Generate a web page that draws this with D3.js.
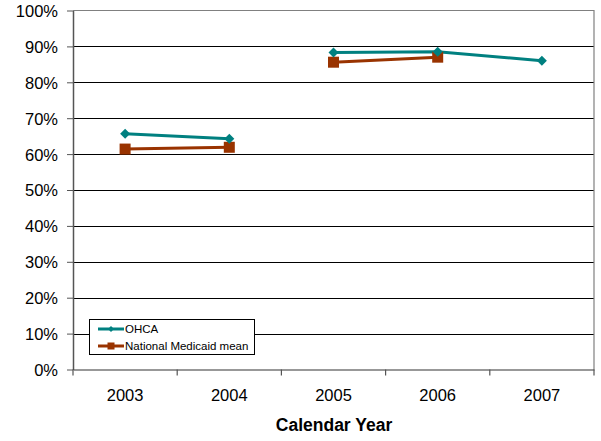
<!DOCTYPE html>
<html><head><meta charset="utf-8">
<script src="https://cdn.jsdelivr.net/npm/d3@7"></script>
<style>body{margin:0;background:#fff}svg{display:block;font-family:"Liberation Sans",Arial,sans-serif}</style>
</head><body><svg id="c" width="601" height="441"></svg>
<script>
const years = ["2003","2004","2005","2006","2007"];
const ohca = [65.7, 64.3, 88.3, 88.5, 86.0];
const national = [61.4, 61.9, 85.6, 87.0, null];
const yTicks = [0,10,20,30,40,50,60,70,80,90,100];
const seriesNames = ["OHCA","National Medicaid mean"];

const svg = d3.select("#c");
const L=73, R=594, T=10.5, B=369.5;
const x = d3.scaleBand().domain(years).range([L,R]);
const y = d3.scaleLinear().domain([0,100]).range([B,T]);
const FF = "Liberation Sans, Arial, sans-serif";

svg.append("g").selectAll("line").data(yTicks.filter(d=>d>0 && d<100)).join("line")
  .attr("x1",L).attr("x2",R).attr("y1",d=>Math.round(y(d))+0.5).attr("y2",d=>Math.round(y(d))+0.5)
  .attr("stroke","#000").attr("stroke-width",1);
svg.append("path").attr("d",`M${L},${T}H${R}V${B}`).attr("fill","none").attr("stroke","#808080").attr("stroke-width",1.2);

const ya = svg.append("g").attr("transform",`translate(${L},0)`)
  .call(d3.axisLeft(y).tickValues(yTicks).tickFormat(d=>d+"%").tickSize(6).tickSizeOuter(0));
ya.select(".domain").attr("stroke","#555").attr("stroke-width",1.5);
ya.selectAll(".tick line").attr("stroke","#555");
ya.selectAll("text").attr("font-size",16.5).attr("fill","#000").attr("font-family",FF).attr("x",-15).attr("dy","0.36em");

const xa = svg.append("g").attr("transform",`translate(0,${B})`)
  .call(d3.axisBottom(x).tickSize(0).tickSizeOuter(0));
xa.select(".domain").attr("stroke","#333").attr("stroke-width",1.2);
xa.selectAll("text").attr("font-size",16.5).attr("fill","#000").attr("font-family",FF).attr("y",0).attr("dy",31.5);
const bounds = years.map(d=>x(d)).concat([R]);
svg.append("g").selectAll("line").data(bounds).join("line")
  .attr("x1",d=>d).attr("x2",d=>d).attr("y1",B).attr("y2",B+6).attr("stroke","#555").attr("stroke-width",1.2);

svg.append("text").attr("x",334).attr("y",431).attr("text-anchor","middle")
  .attr("font-size",17.5).attr("font-weight","bold").text("Calendar Year");

const cx = d=>x(d)+x.bandwidth()/2;
const line = d3.line().defined(d=>d.v!=null).x(d=>cx(d.yr)).y(d=>y(d.v));
function segs(vals){
  return [[0,1],[2,3,4]].map(idx=>idx.map(i=>({yr:years[i],v:vals[i]})));
}
const colors = ["#008080","#993300"];
[[national,1],[ohca,0]].forEach(([vals,ci])=>{
  svg.append("g").selectAll("path").data(segs(vals)).join("path")
    .attr("d",line).attr("fill","none").attr("stroke",colors[ci]).attr("stroke-width",3);
});
const natPts = years.map((yr,i)=>({yr,v:national[i]})).filter(d=>d.v!=null);
svg.append("g").selectAll("rect").data(natPts).join("rect")
  .attr("x",d=>cx(d.yr)-5.5).attr("y",d=>y(d.v)-5.5).attr("width",11).attr("height",11).attr("fill","#993300");
const ohPts = years.map((yr,i)=>({yr,v:ohca[i]}));
svg.append("g").selectAll("path").data(ohPts).join("path")
  .attr("d",d3.symbol(d3.symbolSquare, 50))
  .attr("transform",d=>`translate(${cx(d.yr)},${y(d.v)}) rotate(45)`).attr("fill","#008080");

const lg = svg.append("g");
lg.append("rect").attr("x",89.5).attr("y",319.5).attr("width",165).attr("height",35).attr("fill","#fff").attr("stroke","#000");
seriesNames.forEach((n,i)=>{
  const yy = 329 + i*17;
  lg.append("line").attr("x1",98).attr("x2",124).attr("y1",yy).attr("y2",yy).attr("stroke",colors[i]).attr("stroke-width",3);
  if(i===0) lg.append("path").attr("d",d3.symbol(d3.symbolSquare,18)).attr("transform",`translate(111,${yy}) rotate(45)`).attr("fill",colors[i]);
  else lg.append("rect").attr("x",107.5).attr("y",yy-3.5).attr("width",7).attr("height",7).attr("fill",colors[i]);
  lg.append("text").attr("x",125).attr("y",yy+4).attr("font-size",11.5).text(n);
});
</script></body></html>
